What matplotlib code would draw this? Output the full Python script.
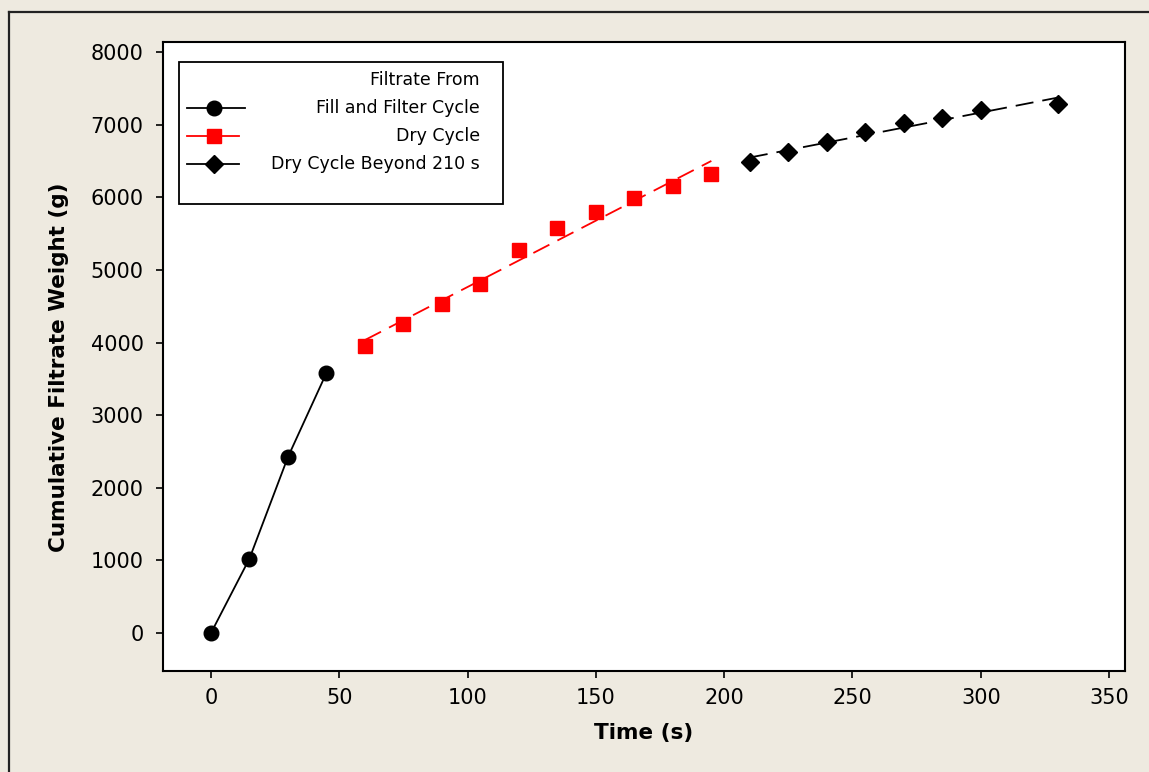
import numpy as np
import matplotlib
matplotlib.use("Agg")
import matplotlib.pyplot as plt
from matplotlib.lines import Line2D
from matplotlib.patches import Rectangle

# Filtrate collected during fill/filter cycle
t_fill = [0, 15, 30, 45]
w_fill = [0, 1025, 2424, 3581]

# Dry cycle up to 195 s
t_dry = [60, 75, 90, 105, 120, 135, 150, 165, 180, 195]
w_dry = [3953, 4256, 4532, 4807, 5275, 5579, 5799, 5992, 6157, 6322]

# Dry cycle beyond 210 s
t_late = [210, 225, 240, 255, 270, 285, 300, 330]
w_late = [6488, 6625, 6763, 6901, 7018, 7094, 7195, 7287]

x_ticks = [0, 50, 100, 150, 200, 250, 300, 350]
y_ticks = [0, 1000, 2000, 3000, 4000, 5000, 6000, 7000, 8000]

BG = "#EEEAE0"

plt.rcParams["font.family"] = "DejaVu Sans"

fig = plt.figure(figsize=(11.49, 7.72), dpi=100, facecolor=BG)
ax = fig.add_axes([163 / 1149, 1 - 671 / 772, 962 / 1149, 629 / 772])
ax.set_facecolor("white")

# fill cycle: points joined by a solid line
ax.plot(t_fill, w_fill, color="black", lw=1.3, marker="o", ms=10.5, zorder=3)

# dry cycle: squares with a dashed linear fit
ax.plot(t_dry, w_dry, ls="none", marker="s", ms=10, color="red", zorder=3)
k1 = np.polyfit(t_dry, w_dry, 1)
tf1 = np.array([t_dry[0], t_dry[-1]])
ax.plot(tf1, np.polyval(k1, tf1), color="red", lw=1.3, dashes=(10, 5), zorder=2)

# beyond 210 s: diamonds with a dashed linear fit
ax.plot(t_late, w_late, ls="none", marker="D", ms=9, color="black", zorder=3)
k2 = np.polyfit(t_late, w_late, 1)
tf2 = np.array([t_late[0], t_late[-1]])
ax.plot(tf2, np.polyval(k2, tf2), color="black", lw=1.3, dashes=(10, 5), zorder=2)

ax.set_xlim(-18.7, 356.2)
ax.set_ylim(-523, 8138)
ax.set_xticks(x_ticks)
ax.set_yticks(y_ticks)
ax.tick_params(axis="both", direction="out", length=5, width=1.2, labelsize=15, colors="black")
ax.tick_params(axis="x", pad=7)
ax.tick_params(axis="y", pad=9)
for s in ax.spines.values():
    s.set_linewidth(1.5)
    s.set_color("black")

ax.set_xlabel("Time (s)", fontsize=15.5, fontweight="bold", labelpad=11)
ax.set_ylabel("Cumulative Filtrate Weight (g)", fontsize=15.5, fontweight="bold")
ax.yaxis.set_label_coords(-0.0976, 0.483)

# legend box, text right-aligned like the original software
ax.add_patch(Rectangle((0.0166, 0.7425), 0.3368, 0.2255, transform=ax.transAxes,
                       facecolor="white", edgecolor="black", lw=1.3, zorder=5))
ax.text(0.3295, 0.9396, "Filtrate From", transform=ax.transAxes, ha="right", va="center",
        fontsize=12.5, zorder=6)
rows = [
    (0.895, "Fill and Filter Cycle", dict(color="black", marker="o", ms=10.5), 0.085),
    (0.8506, "Dry Cycle", dict(color="red", marker="s", ms=10), 0.079),
    (0.806, "Dry Cycle Beyond 210 s", dict(color="black", marker="D", ms=9), 0.079),
]
for y, label, style, x_end in rows:
    ax.add_line(Line2D([0.025, x_end], [y, y], transform=ax.transAxes, lw=1.3,
                       zorder=6, color=style["color"]))
    ax.add_line(Line2D([0.053], [y], transform=ax.transAxes, ls="none",
                       marker=style["marker"], ms=style["ms"], color=style["color"], zorder=7))
    ax.text(0.3295, y, label, transform=ax.transAxes, ha="right", va="center",
            fontsize=12.5, zorder=6)

# outer frame of the graph window
fig.add_artist(Line2D([9 / 1149, 9 / 1149], [0, 1 - 12 / 772], transform=fig.transFigure,
                      color="#222222", lw=1.6))
fig.add_artist(Line2D([9 / 1149, 1], [1 - 12 / 772, 1 - 12 / 772], transform=fig.transFigure,
                      color="#222222", lw=1.6))

fig.savefig("out.png", dpi=100, facecolor=BG)
